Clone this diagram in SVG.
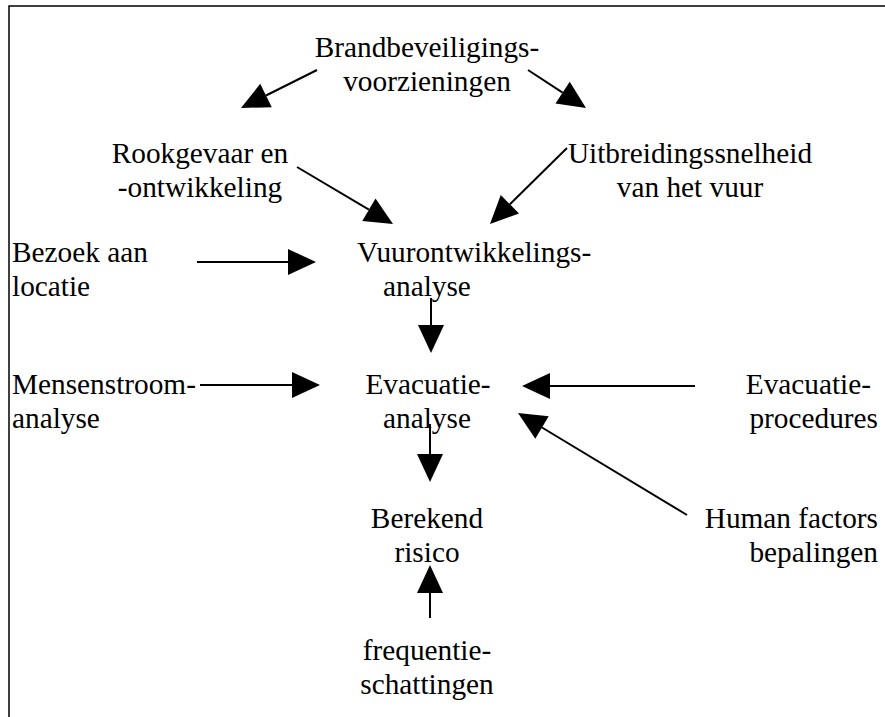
<svg xmlns="http://www.w3.org/2000/svg" width="885" height="717" viewBox="0 0 885 717">
<defs>
  <marker id="ah" markerUnits="userSpaceOnUse" markerWidth="30" markerHeight="28" refX="0" refY="13" orient="auto" overflow="visible">
    <path d="M0,0 L28,13 L0,26 Z" fill="#000"/>
  </marker>
</defs>
<rect width="885" height="717" fill="#fff"/>
<path d="M9,717 L9,6 L885,6" stroke="#000" stroke-width="1.5" fill="none"/>

<g id="nodes" font-family="Liberation Serif" font-size="29.3" fill="#000">
<g id="brand" text-anchor="middle"><text x="427" y="57">Brandbeveiligings-</text><text x="427" y="91">voorzieningen</text></g>
<g id="rook" text-anchor="middle"><text x="200" y="163">Rookgevaar en</text><text x="200" y="197">-ontwikkeling</text></g>
<g id="uitbreid" text-anchor="middle"><text x="690" y="163">Uitbreidingssnelheid</text><text x="690" y="197">van het vuur</text></g>
<g id="bezoek"><text x="12" y="262">Bezoek aan</text><text x="12" y="296">locatie</text></g>
<g id="vuur"><text x="357" y="262">Vuurontwikkelings-</text><text x="383" y="296">analyse</text></g>
<g id="mensen"><text x="12" y="394">Mensenstroom-</text><text x="12" y="428">analyse</text></g>
<g id="evac" text-anchor="middle"><text x="428" y="394">Evacuatie-</text><text x="427" y="428">analyse</text></g>
<g id="evacproc" text-anchor="end"><text x="871" y="394">Evacuatie-</text><text x="878" y="428">procedures</text></g>
<g id="berekend" text-anchor="middle"><text x="427" y="528">Berekend</text><text x="427" y="562">risico</text></g>
<g id="human" text-anchor="end"><text x="878" y="528">Human factors</text><text x="878" y="562">bepalingen</text></g>
<g id="freq" text-anchor="middle"><text x="427" y="660">frequentie-</text><text x="427" y="694">schattingen</text></g>
</g>

<g id="connectors" stroke="#000" stroke-width="2" marker-end="url(#ah)">
  <line x1="317" y1="70" x2="266" y2="95.5"/>
  <line x1="528" y1="70" x2="562.6" y2="92.7"/>
  <line x1="297" y1="167" x2="368.9" y2="209.7"/>
  <line x1="567" y1="148" x2="509.9" y2="204.3"/>
  <line x1="197" y1="262" x2="288" y2="262"/>
  <line x1="431" y1="298" x2="431" y2="325"/>
  <line x1="200" y1="385" x2="292" y2="385"/>
  <line x1="695" y1="386" x2="550" y2="386"/>
  <line x1="687" y1="515" x2="542" y2="427.5"/>
  <line x1="430" y1="424" x2="430" y2="454"/>
  <line x1="430" y1="618" x2="430" y2="593"/>
</g>
</svg>
